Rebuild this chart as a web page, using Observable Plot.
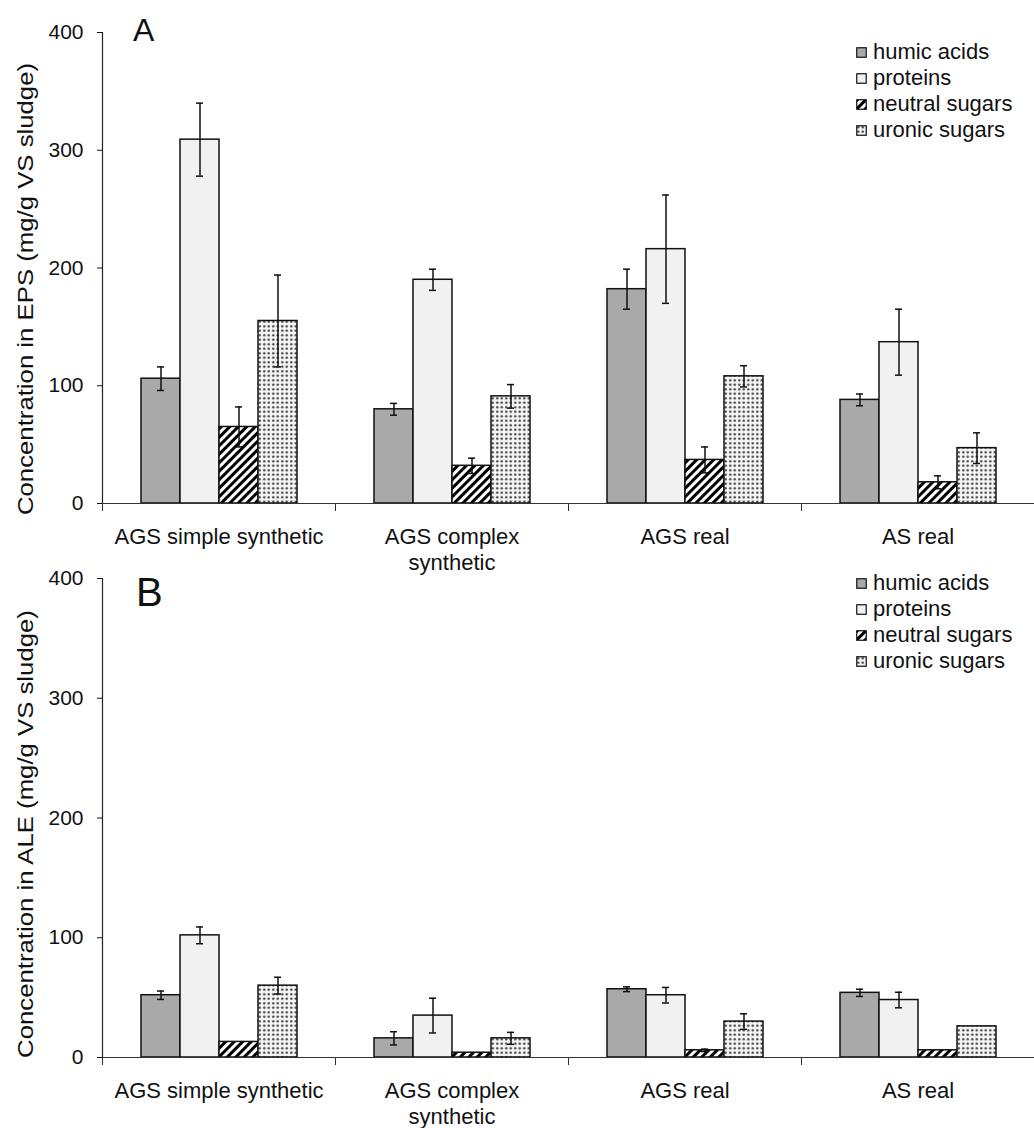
<!DOCTYPE html>
<html><head><meta charset="utf-8">
<script src="https://cdn.jsdelivr.net/npm/d3@7"></script>
<script src="https://cdn.jsdelivr.net/npm/@observablehq/plot@0.6"></script>
<style>
body{margin:0;background:#fff;}
#root{position:relative;width:1034px;height:1128px;font-family:"Liberation Sans",Arial,sans-serif;color:#111;}
.panel{position:absolute;left:0;}
.panel svg{overflow:visible;}
.legend{position:absolute;left:856px;font-size:22px;line-height:26px;}
.legend .row{display:flex;align-items:center;height:26px;}
.legend svg{margin-right:6px;}
.ytitle{position:absolute;white-space:nowrap;font-size:22px;line-height:22px;transform:translate(-50%,-50%) rotate(-90deg) scale(1.17,1);}
.letter{position:absolute;line-height:1;}
</style></head><body>
<svg width="0" height="0" style="position:absolute">
<defs>
<pattern id="hatch" width="6" height="6" patternUnits="userSpaceOnUse" patternTransform="rotate(45)">
<rect width="6" height="6" fill="#fff"/><rect x="0" y="0" width="3" height="6" fill="#000"/>
</pattern>
<pattern id="dots" width="4.5" height="4.5" patternUnits="userSpaceOnUse">
<rect width="4.5" height="4.5" fill="#f5f5f5"/><circle cx="2.25" cy="2.25" r="1.2" fill="#333"/>
</pattern>
</defs>
</svg>
<div id="root"></div>
<script>
// ---- data ----
const categories = ["AGS simple synthetic", "AGS complex\nsynthetic", "AGS real", "AS real"];
const seriesNames = ["humic acids", "proteins", "neutral sugars", "uronic sugars"];
const yTicks = [0, 100, 200, 300, 400];

// Panel A: EPS
const epsHumic = [106, 80, 182, 88];
const epsHumicErr = [10, 5, 17, 5];
const epsProteins = [309, 190, 216, 137];
const epsProteinsErr = [31, 9, 46, 28];
const epsNeutral = [65, 32, 37, 18];
const epsNeutralErr = [17, 6.5, 11, 5.5];
const epsUronic = [155, 91, 108, 47];
const epsUronicErr = [39, 10, 9, 13];

// Panel B: ALE
const aleHumic = [52, 16, 57, 54];
const aleHumicErr = [3.5, 5.5, 2, 3];
const aleProteins = [102, 35, 52, 48];
const aleProteinsErr = [7, 14.5, 6.5, 6.5];
const aleNeutral = [13, 4, 6, 6];
const aleNeutralErr = [0, 0, 1, 0];
const aleUronic = [60, 16, 30, 26];
const aleUronicErr = [7, 5, 6.5, 0];

const fills = {
  "humic acids": "#a9a9a9",
  "proteins": "#f1f1f1",
  "neutral sugars": "url(#hatch)",
  "uronic sugars": "url(#dots)"
};

function makePanel(vals, errs, opts) {
  const data = [];
  categories.forEach((c, i) => seriesNames.forEach((s, j) =>
    data.push({cat: c, series: s, value: vals[j][i], err: errs[j][i]})));
  const withErr = data.filter(d => d.err > 0);
  const innerH = opts.height - opts.mt - opts.mb;
  return Plot.plot({
    width: 1034, height: opts.height,
    marginLeft: 101, marginRight: 0, marginTop: opts.mt, marginBottom: opts.mb,
    style: {fontFamily: '"Liberation Sans", Arial, sans-serif', overflow: "visible", background: "transparent", color: "#111"},
    fx: {domain: categories, padding: 0},
    x: {domain: seriesNames, paddingInner: 0, paddingOuter: 0.97, axis: null},
    y: {domain: [0, 400]},
    marks: [
      Plot.axisY({ticks: yTicks, tickSize: 5, tickPadding: 14, fontSize: 21, label: null, stroke: "#111"}),
      Plot.frame({anchor: "left", facetAnchor: "left", stroke: "#222", strokeWidth: 1.2}),
      Plot.axisFx({anchor: "bottom", tickSize: 0, tickPadding: 22, fontSize: 22, lineHeight: 1.18, label: null}),
      ...seriesNames.map(s => Plot.barY(data, {
        filter: d => d.series === s, fx: "cat", x: "series", y: "value",
        fill: fills[s], stroke: "#111", strokeWidth: 1.5
      })),
      Plot.ruleX(withErr, {fx: "cat", x: "series", y1: d => d.value - d.err, y2: d => d.value + d.err, stroke: "#111", strokeWidth: 1.5}),
      Plot.tickY(withErr, {fx: "cat", x: "series", y: d => d.value + d.err, insetLeft: 16, insetRight: 16, stroke: "#111", strokeWidth: 1.5}),
      Plot.tickY(withErr, {fx: "cat", x: "series", y: d => d.value - d.err, insetLeft: 16, insetRight: 16, stroke: "#111", strokeWidth: 1.5}),
      Plot.ruleY([0], {stroke: "#333", strokeWidth: 1.2}),
      Plot.frame({anchor: "left", insetTop: innerH, insetBottom: -7, stroke: "#333"})
    ]
  });
}

const root = document.getElementById("root");

function addPanel(top, chart) {
  const d = document.createElement("div");
  d.className = "panel";
  d.style.top = top + "px";
  d.appendChild(chart);
  root.appendChild(d);
}

addPanel(0, makePanel([epsHumic, epsProteins, epsNeutral, epsUronic],
  [epsHumicErr, epsProteinsErr, epsNeutralErr, epsUronicErr], {height: 560, mt: 32, mb: 57}));
addPanel(560, makePanel([aleHumic, aleProteins, aleNeutral, aleUronic],
  [aleHumicErr, aleProteinsErr, aleNeutralErr, aleUronicErr], {height: 568, mt: 18, mb: 71}));

function addLegend(top) {
  const lg = document.createElement("div");
  lg.className = "legend";
  lg.style.top = top + "px";
  seriesNames.forEach(s => {
    const row = document.createElement("div");
    row.className = "row";
    row.innerHTML = `<svg width="11" height="11"><rect x="0.75" y="0.75" width="9.5" height="9.5" fill="${fills[s]}" stroke="#111" stroke-width="1.2"/></svg><span>${s}</span>`;
    lg.appendChild(row);
  });
  root.appendChild(lg);
}
addLegend(39);
addLegend(570);

function addText(cls, text, css) {
  const t = document.createElement("div");
  t.className = cls;
  t.textContent = text;
  Object.assign(t.style, css);
  root.appendChild(t);
}
addText("ytitle", "Concentration in EPS (mg/g VS sludge)", {left: "26px", top: "289px"});
addText("ytitle", "Concentration in ALE (mg/g VS sludge)", {left: "26px", top: "834px"});
addText("letter", "A", {left: "133px", top: "14px", fontSize: "32px"});
addText("letter", "B", {left: "136px", top: "572px", fontSize: "40px", fontFamily: '"Liberation Sans Narrow","Liberation Sans",Arial,sans-serif'});
</script>
</body></html>
